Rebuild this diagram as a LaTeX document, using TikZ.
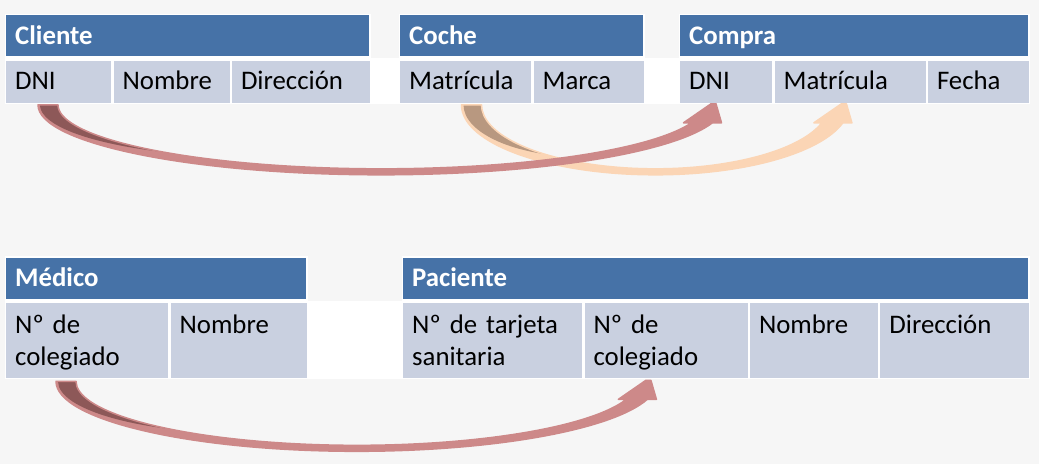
\documentclass[tikz,border=0pt]{standalone}
\usepackage{fontspec}
\setmainfont{Carlito}
\usetikzlibrary{positioning,calc}
\definecolor{headblue}{RGB}{70,114,167}
\definecolor{cellgray}{RGB}{201,208,224}
\definecolor{pagegray}{RGB}{246,246,246}
\definecolor{rosefill}{RGB}{205,137,137}
\definecolor{roseback}{RGB}{141,88,88}
\definecolor{peachfill}{RGB}{251,213,181}
\definecolor{peachback}{RGB}{184,152,128}
\tikzset{
    head/.style={rectangle, fill=headblue, text=white,
        font=\fontsize{26.8}{32}\selectfont\bfseries, anchor=north west, align=left,
        inner xsep=9pt, inner ysep=0pt, text height=29pt, text depth=12pt},
    cell/.style={rectangle, fill=cellgray, font=\fontsize{26.8}{32}\selectfont,
        anchor=north west, align=left,
        inner xsep=9pt, inner ysep=0pt, text height=29pt, text depth=13pt},
    tall/.style={text height=30pt, text depth=45pt},
    border/.style={fill=white}
}
\newcommand{\ribbonpath}[2]{let \p1=(#1), \p2=(#2) in
    (\x1-10pt,\y1) arc[start angle=180, end angle=345.1,
        x radius={(\x2-\x1+9pt)/1.9666}, y radius=70pt]
    -- (\x2+8pt,\y1-18pt) -- (\x2+2.5pt,\y2) -- (\x2-2.5pt,\y2)
    -- (\x2-30pt,\y1-18pt) -- (\x2-22pt,\y1-18pt)
    arc[start angle=343.67, end angle=180,
        x radius={(\x2-\x1-32pt)/1.9596}, y radius=64pt] -- cycle}
\newcommand{\ribbon}[4]{
    \fill[#3] \ribbonpath{#1}{#2};
    \begin{scope}
        \clip \ribbonpath{#1}{#2};
        \fill[#4] let \p1=(#1), \p2=(#2) in
            ({\x1-8pt+0.32*(\x2-\x1)},\y1) ellipse [x radius={0.32*(\x2-\x1)}, y radius=52pt];
    \end{scope}
    \draw[#3, line width=1.5pt, line join=round] \ribbonpath{#1}{#2};
}

\begin{document}
\begin{tikzpicture}[x=1pt, y=1pt]
    \fill[pagegray] (0,0) rectangle (1039,-464);
    \useasboundingbox (0,0) rectangle (1039,-464);

    \fill[border] (4.5,-13.5) rectangle (370.5,-58);
    \fill[border] (398.5,-13.5) rectangle (644.5,-58);
    \fill[border] (678.5,-13.5) rectangle (1029.5,-58);
    \fill[border] (4.5,-58) rectangle (1029.5,-103.5);
    \fill[border] (4.5,-256) rectangle (307.5,-300.5);
    \fill[border] (401.5,-256) rectangle (1029.5,-300.5);
    \fill[border] (4.5,-300.5) rectangle (1029.5,-379);

    \node[head, text width=345pt] (cliente) at (6,-15) {Cliente};
    \node[cell, text width=87pt, below=4pt of cliente.south west, anchor=north west] (clidni) {DNI};
    \node[cell, text width=98pt, right=2pt of clidni] (clinom) {Nombre};
    \node[cell, text width=120pt, right=2pt of clinom] (clidir) {Dirección};

    \node[head, text width=225pt] (coche) at (400,-15) {Coche};
    \node[cell, text width=113pt, below=4pt of coche.south west, anchor=north west] (cochemat) {Matrícula};
    \node[cell, text width=92pt, right=2pt of cochemat] (cochemarca) {Marca};

    \node[head, text width=330pt] (compra) at (680,-15) {Compra};
    \node[cell, text width=74pt, below=4pt of compra.south west, anchor=north west] (compdni) {DNI};
    \node[cell, text width=133pt, right=2pt of compdni] (compmat) {Matrícula};
    \node[cell, text width=83pt, right=2pt of compmat] (compfecha) {Fecha};

    \node[head, text width=282pt] (medico) at (6,-257.5) {Médico};
    \node[cell, tall, text width=144pt, below=4pt of medico.south west, anchor=north west] (medcol) {Nº de\\colegiado};
    \node[cell, tall, text width=118pt, right=2pt of medcol] (mednom) {Nombre};

    \node[head, text width=607pt] (paciente) at (403,-257.5) {Paciente};
    \node[cell, tall, text width=161pt, below=4pt of paciente.south west, anchor=north west] (pacsan) {Nº de tarjeta\\sanitaria};
    \node[cell, tall, text width=145pt, right=2pt of pacsan] (paccol) {Nº de\\colegiado};
    \node[cell, tall, text width=110pt, right=2pt of paccol] (pacnom) {Nombre};
    \node[cell, tall, text width=131pt, right=2pt of pacnom] (pacdir) {Dirección};

    \ribbon{[shift={(71.5pt,-2pt)}]cochemat.south west}{[shift={(69.5pt,-1pt)}]compmat.south west}{peachfill}{peachback}
    \ribbon{[shift={(42pt,-2pt)}]clidni.south west}{[shift={(33.5pt,-1pt)}]compdni.south west}{rosefill}{roseback}
    \ribbon{[shift={(60pt,-3pt)}]medcol.south west}{[shift={(64pt,-2pt)}]paccol.south west}{rosefill}{roseback}
\end{tikzpicture}
\end{document}
